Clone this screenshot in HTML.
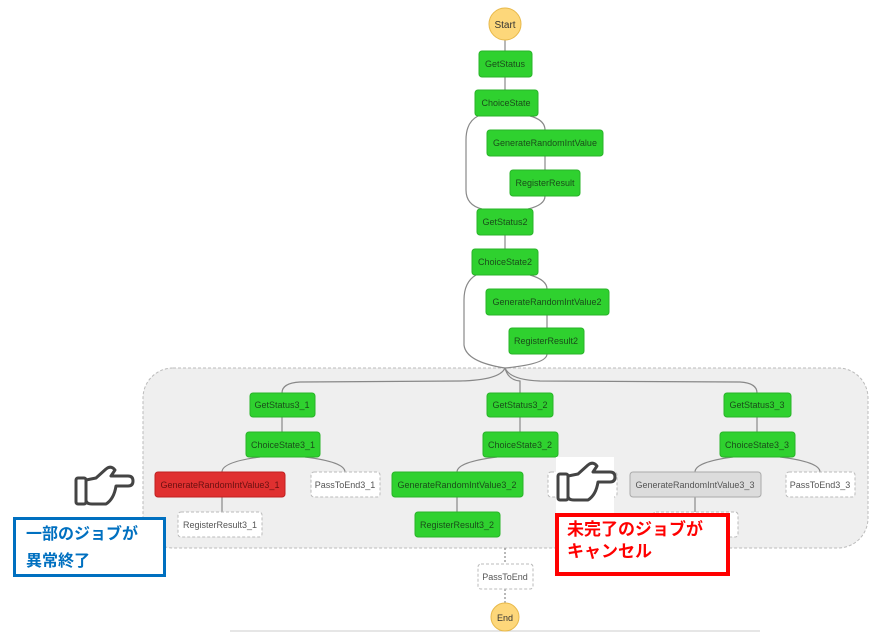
<!DOCTYPE html>
<html><head><meta charset="utf-8"><style>
html,body{margin:0;padding:0;background:#fff;width:884px;height:635px;overflow:hidden}
svg text{font-family:"Liberation Sans","Noto Sans CJK JP",sans-serif}
</style></head><body>
<svg width="884" height="635" viewBox="0 0 884 635" xmlns="http://www.w3.org/2000/svg">
<defs><marker id="a" markerWidth="6" markerHeight="6" refX="3" refY="5" orient="auto"><path d="M0,0 L6,0 L3,5 Z" fill="#555"/></marker>
<marker id="b" viewBox="0 0 6 6" markerWidth="5" markerHeight="5" refX="3" refY="5" orient="auto-start-reverse"><path d="M0,0 L6,3 L0,6Z" fill="#555"/></marker></defs>
<!-- parallel container -->
<rect x="143" y="368" width="725" height="180" rx="30" fill="#efefef" stroke="#bbb" stroke-dasharray="3,2"/>
<g fill="none" stroke="#888" stroke-width="1.2">
<line x1="505" y1="40" x2="505" y2="51"/>
<line x1="505" y1="77" x2="505" y2="90"/>
<path d="M478,116 Q466,122 466,140 L466,190 Q466,205 482,209"/>
<path d="M530,116 Q545,120 545,130"/>
<line x1="545" y1="156" x2="545" y2="170"/>
<path d="M545,196 Q545,205 528,209"/>
<line x1="505" y1="235" x2="505" y2="249"/>
<path d="M476,275 Q464,282 464,300 L464,345 Q466,362 505,368"/>
<path d="M530,275 Q547,280 547,289"/>
<line x1="547" y1="315" x2="547" y2="328"/>
<path d="M547,354 Q547,364 505,368"/>
<path d="M505,368 Q500,380 460,381 L300,382 Q282,383 282,393"/>
<path d="M505,368 Q508,380 520,381 L520,393"/>
<path d="M505,368 Q510,380 540,381 L740,382 Q757,383 757,393"/>
<line x1="282" y1="417" x2="282" y2="432"/>
<line x1="520" y1="417" x2="520" y2="432"/>
<line x1="757" y1="417" x2="757" y2="432"/>
<path d="M260,457 Q222,462 222,472"/>
<path d="M305,457 Q345,462 345,472"/>
<path d="M497,457 Q457,462 457,472"/>
<path d="M733,457 Q695,462 695,472"/>
<path d="M780,457 Q820,462 820,472"/>
<line x1="222" y1="497" x2="222" y2="512"/>
<line x1="457" y1="497" x2="457" y2="512"/>
<line x1="695" y1="497" x2="695" y2="512"/>
<line x1="505" y1="548" x2="505" y2="564" stroke-dasharray="2,2"/>
<line x1="505" y1="589" x2="505" y2="603" stroke-dasharray="2,2"/>
</g>
<line x1="230" y1="631" x2="760" y2="631" stroke="#ccc"/>
<!-- circles -->
<circle cx="505" cy="24" r="16" fill="#fdd77a" stroke="#e8b94a"/>
<text x="505" y="28" font-size="10" text-anchor="middle" fill="#333">Start</text>
<circle cx="505" cy="617" r="14" fill="#fdd77a" stroke="#e8b94a"/>
<text x="505" y="621" font-size="9" text-anchor="middle" fill="#333">End</text>
<g font-size="9" text-anchor="middle">
<g fill="#2fd12f" stroke="#28b428">
<rect x="479" y="51" width="53" height="26" rx="3"/>
<rect x="475" y="90" width="63" height="26" rx="3"/>
<rect x="487" y="130" width="116" height="26" rx="3"/>
<rect x="510" y="170" width="70" height="26" rx="3"/>
<rect x="477" y="209" width="56" height="26" rx="3"/>
<rect x="472" y="249" width="66" height="26" rx="3"/>
<rect x="486" y="289" width="123" height="26" rx="3"/>
<rect x="509" y="328" width="75" height="26" rx="3"/>
<rect x="250" y="393" width="65" height="24" rx="3"/>
<rect x="246" y="432" width="74" height="25" rx="3"/>
<rect x="487" y="393" width="66" height="24" rx="3"/>
<rect x="483" y="432" width="75" height="25" rx="3"/>
<rect x="392" y="472" width="131" height="25" rx="3"/>
<rect x="415" y="512" width="85" height="25" rx="3"/>
<rect x="724" y="393" width="67" height="24" rx="3"/>
<rect x="720" y="432" width="75" height="25" rx="3"/>
</g>
<rect x="155" y="472" width="130" height="25" rx="3" fill="#e03030" stroke="#c02020"/>
<rect x="630" y="472" width="131" height="25" rx="3" fill="#dcdcdc" stroke="#aaa"/>
<g fill="#fff" stroke="#bbb" stroke-dasharray="3,2">
<rect x="311" y="472" width="69" height="25" rx="3"/>
<rect x="178" y="512" width="84" height="25" rx="3"/>
<rect x="548" y="472" width="69" height="25" rx="3"/>
<rect x="786" y="472" width="69" height="25" rx="3"/>
<rect x="653" y="512" width="85" height="25" rx="3"/>
<rect x="478" y="564" width="55" height="25" rx="3"/>
</g>
<g fill="#1a4d1a">
<text x="505" y="67">GetStatus</text>
<text x="506" y="106">ChoiceState</text>
<text x="545" y="146">GenerateRandomIntValue</text>
<text x="545" y="186">RegisterResult</text>
<text x="505" y="225">GetStatus2</text>
<text x="505" y="265">ChoiceState2</text>
<text x="547" y="305">GenerateRandomIntValue2</text>
<text x="546" y="344">RegisterResult2</text>
<text x="282" y="408">GetStatus3_1</text>
<text x="283" y="448">ChoiceState3_1</text>
<text x="520" y="408">GetStatus3_2</text>
<text x="520" y="448">ChoiceState3_2</text>
<text x="457" y="488">GenerateRandomIntValue3_2</text>
<text x="457" y="528">RegisterResult3_2</text>
<text x="757" y="408">GetStatus3_3</text>
<text x="757" y="448">ChoiceState3_3</text>
</g>
<text x="220" y="488" fill="#6a1010">GenerateRandomIntValue3_1</text>
<g fill="#555">
<text x="695" y="488">GenerateRandomIntValue3_3</text>
<text x="345" y="488">PassToEnd3_1</text>
<text x="220" y="528">RegisterResult3_1</text>
<text x="820" y="488">PassToEnd3_3</text>
<text x="505" y="580">PassToEnd</text>
</g>
</g>
<!-- hand 1 -->
<g fill="#fff" stroke="#444" stroke-width="3" stroke-linejoin="round">
<path transform="translate(76,466)" d="M10,14 L20,12 L30,3 Q35,-1 39,4 L35,10 L52,10 Q57,10 57,15 Q57,20 52,20 L40,20 Q38,33 30,38 L16,38 Q10,38 10,34 Z"/>
<rect x="76" y="478" width="10" height="26" rx="2"/>
</g>
<rect x="556" y="457" width="58" height="56" fill="#fff"/>
<g fill="#fff" stroke="#444" stroke-width="3" stroke-linejoin="round">
<path transform="translate(558,462)" d="M10,14 L20,12 L30,3 Q35,-1 39,4 L35,10 L52,10 Q57,10 57,15 Q57,20 52,20 L40,20 Q38,33 30,38 L16,38 Q10,38 10,34 Z"/>
<rect x="558" y="474" width="10" height="26" rx="2"/>
</g>
<!-- callouts -->
<rect x="14.5" y="518.5" width="150" height="57" fill="#fff" stroke="#0070c0" stroke-width="3"/>
<text x="26" y="539" font-size="16" font-weight="bold" fill="#0070c0">一部のジョブが</text>
<text x="26" y="566" font-size="16" font-weight="bold" fill="#0070c0">異常終了</text>
<rect x="557" y="515" width="171" height="59" fill="#fff" stroke="#f00" stroke-width="4"/>
<text x="567" y="535" font-size="17" font-weight="bold" fill="#f00">未完了のジョブが</text>
<text x="567" y="557" font-size="17" font-weight="bold" fill="#f00">キャンセル</text>
</svg>
</body></html>
